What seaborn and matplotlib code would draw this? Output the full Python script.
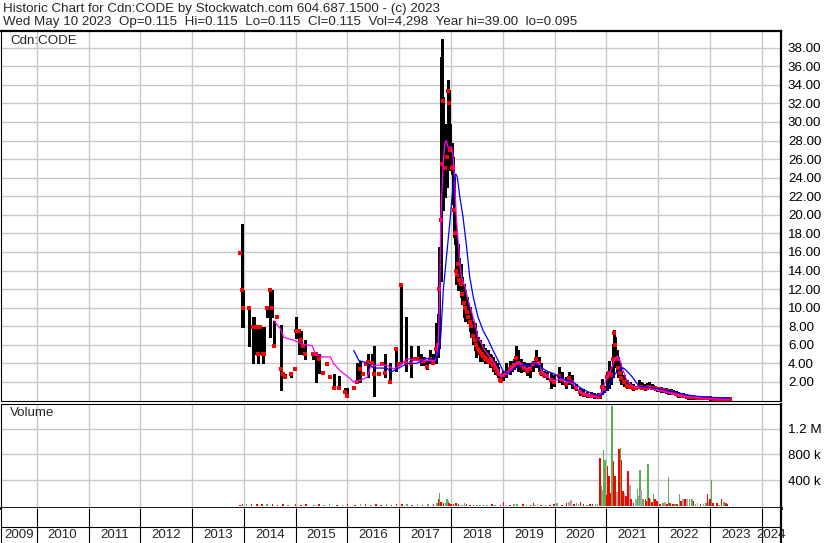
import pandas as pd
import numpy as np
import matplotlib
matplotlib.use("Agg")
import matplotlib.pyplot as plt
import seaborn as sns

# Header text
title_line1 = "Historic Chart for Cdn:CODE by Stockwatch.com 604.687.1500 - (c) 2023"
title_line2 = ("Wed May 10 2023  Op=0.115  Hi=0.115  Lo=0.115  Cl=0.115  "
               "Vol=4,298  Year hi=39.00  lo=0.095")
symbol = "Cdn:CODE"

# Price bars (decimal year, high, low, close)
bar_year = [2013.92, 2013.97, 2013.99, 2014.10, 2014.17, 2014.19, 2014.23, 2014.28, 2014.32, 2014.36,
            2014.38, 2014.45, 2014.51, 2014.54, 2014.58, 2014.64, 2014.71, 2014.76, 2014.80, 2014.91,
            2014.99, 2015.01, 2015.06, 2015.10, 2015.14, 2015.17, 2015.34, 2015.40, 2015.45, 2015.53,
            2015.61, 2015.67, 2015.73, 2015.83, 2015.95, 2015.99, 2016.13, 2016.19, 2016.24, 2016.30,
            2016.35, 2016.40, 2016.47, 2016.51, 2016.60, 2016.67, 2016.73, 2016.83, 2016.94, 2016.99,
            2017.03, 2017.13, 2017.23, 2017.31, 2017.37, 2017.42, 2017.47,
            2017.53, 2017.59, 2017.65, 2017.71, 2017.75, 2017.77, 2017.80, 2017.83, 2017.85, 2017.89,
            2017.92, 2017.94, 2017.96, 2017.98, 2018.01, 2018.04, 2018.06, 2018.07, 2018.10, 2018.12,
            2018.14, 2018.16, 2018.19, 2018.21, 2018.24, 2018.27, 2018.30, 2018.33, 2018.36, 2018.39,
            2018.43, 2018.46, 2018.49, 2018.52, 2018.55, 2018.59, 2018.62, 2018.65, 2018.68, 2018.72,
            2018.75, 2018.78, 2018.81, 2018.84, 2018.88, 2018.91, 2018.94, 2018.97, 2019.01, 2019.07,
            2019.13, 2019.18, 2019.22,
            2019.26, 2019.30, 2019.35, 2019.41, 2019.47, 2019.53, 2019.58, 2019.64, 2019.69, 2019.73,
            2019.80, 2019.85, 2019.92, 2019.99, 2020.09, 2020.14, 2020.21, 2020.28, 2020.33, 2020.41,
            2020.49, 2020.55, 2020.63, 2020.70, 2020.76, 2020.83, 2020.88, 2020.91, 2020.95, 2021.01,
            2021.04, 2021.08, 2021.12, 2021.15, 2021.17, 2021.20, 2021.23, 2021.26, 2021.29, 2021.34,
            2021.39, 2021.46, 2021.52, 2021.58,
            2021.63, 2021.68, 2021.74, 2021.83, 2021.87, 2021.94, 2022.02, 2022.10, 2022.19, 2022.29,
            2022.39, 2022.48, 2022.58, 2022.68, 2022.80, 2022.93, 2023.06, 2023.19, 2023.29, 2023.38,
            2021.66, 2021.71, 2021.78, 2021.90, 2021.98, 2022.06, 2022.14, 2022.24, 2022.34, 2022.44,
            2022.53, 2022.63, 2022.74, 2022.87, 2023.00, 2023.12, 2023.24, 2023.34]
bar_hi = [16.0, 19.0, 11.9, 10.0, 9.0, 9.0, 7.9, 7.9, 7.9, 7.9,
          7.9, 10.0, 11.9, 11.9, 8.6, 9.0, 8.1, 3.0, 2.9, 2.9,
          3.4, 9.0, 7.5, 7.5, 5.9, 6.5, 5.0, 5.0, 5.0, 3.0,
          3.9, 2.5, 2.9, 2.6, 1.4, 1.4, 1.4, 4.0, 4.3, 2.9,
          3.9, 5.0, 5.0, 5.9, 2.9, 3.9, 5.0, 4.0, 5.5, 3.9,
          12.4, 9.0, 5.9, 4.5, 5.9, 5.0, 4.7,
          4.3, 5.4, 5.0, 8.3, 9.3, 16.5, 37.0, 38.9, 32.7, 29.8,
          29.8, 34.5, 33.4, 29.8, 27.7, 26.2, 24.1, 19.8, 18.3, 16.2,
          16.9, 15.4, 14.7, 13.3, 12.6, 11.9, 11.1, 10.4, 10.1, 9.3,
          8.6, 8.3, 7.5, 6.8, 6.5, 6.1, 6.1, 5.7, 5.4, 5.4,
          5.0, 4.9, 4.7, 4.3, 4.0, 3.6, 2.9, 2.5, 3.2, 4.0,
          4.3, 4.3, 4.5,
          5.9, 5.4, 4.5, 4.1, 4.0, 4.0, 4.3, 5.4, 4.7, 4.0,
          3.2, 3.1, 3.0, 2.7, 3.6, 3.1, 2.5, 3.1, 2.7, 1.8,
          1.3, 1.2, 0.9, 0.9, 0.8, 0.8, 0.7, 2.3, 1.6, 3.1,
          4.3, 3.6, 6.1, 7.6, 6.8, 5.4, 4.7, 4.0, 3.2, 2.7,
          2.2, 2.0, 1.8, 1.6,
          2.2, 1.9, 1.8, 2.0, 1.8, 1.6, 1.4, 1.4, 1.26, 1.1,
          0.9, 0.8, 0.55, 0.54, 0.43, 0.43, 0.4, 0.36, 0.3, 0.2,
          2.0, 1.7, 1.9, 1.7, 1.5, 1.45, 1.3, 1.2, 1.0, 0.85,
          0.7, 0.55, 0.5, 0.43, 0.42, 0.38, 0.33, 0.25]
bar_lo = [15.8, 7.9, 7.9, 5.9, 4.0, 5.0, 5.0, 4.0, 5.0, 4.0,
          5.0, 9.0, 6.8, 9.0, 5.9, 8.9, 1.1, 2.5, 2.5, 2.5,
          3.3, 6.7, 5.0, 5.0, 5.0, 4.5, 4.5, 2.0, 3.0, 2.9,
          3.8, 2.4, 1.4, 1.4, 0.9, 0.5, 1.3, 2.0, 2.0, 2.8,
          3.8, 2.5, 4.0, 0.5, 2.8, 3.8, 2.5, 2.0, 3.2, 3.8,
          4.0, 3.2, 2.5, 4.4, 4.5, 3.8, 3.8,
          3.4, 4.0, 4.0, 4.0, 4.7, 5.7, 12.9, 22.6, 20.5, 21.9,
          23.0, 29.1, 27.7, 24.8, 24.4, 21.2, 17.6, 16.9, 12.6, 12.6,
          11.9, 12.6, 11.1, 10.4, 9.0, 8.6, 8.6, 8.3, 7.5, 6.8,
          6.1, 5.4, 4.7, 5.0, 4.3, 4.7, 4.3, 4.0, 4.0, 4.0,
          3.6, 4.0, 3.2, 2.9, 2.8, 2.5, 2.0, 2.0, 2.2, 2.5,
          2.9, 3.2, 3.4,
          3.6, 3.2, 3.1, 3.2, 2.7, 2.5, 3.2, 3.6, 3.2, 2.7,
          2.5, 2.3, 1.4, 1.6, 2.0, 1.8, 1.3, 1.8, 1.4, 1.1,
          0.6, 0.5, 0.4, 0.4, 0.3, 0.3, 0.3, 0.7, 0.9, 1.1,
          1.4, 1.8, 2.5, 4.3, 3.6, 3.2, 2.5, 2.2, 1.8, 1.6,
          1.3, 1.3, 1.1, 1.2,
          1.3, 1.2, 1.15, 1.3, 1.2, 1.1, 1.0, 0.9, 0.75, 0.7,
          0.4, 0.36, 0.2, 0.2, 0.15, 0.12, 0.1, 0.08, 0.08, 0.1,
          1.3, 1.2, 1.2, 1.2, 1.05, 0.95, 0.85, 0.75, 0.6, 0.4,
          0.3, 0.2, 0.18, 0.12, 0.1, 0.09, 0.08, 0.09]
bar_close = [15.9, 11.9, 10.0, 10.0, 7.9, 7.9, 7.9, 5.0, 7.9, 5.0,
             5.0, 10.0, 11.9, 10.0, 5.9, 9.0, 3.4, 2.9, 2.5, 2.9,
             3.4, 7.5, 7.5, 6.5, 5.9, 5.0, 5.0, 5.0, 4.5, 2.95,
             3.9, 2.5, 1.4, 1.4, 0.9, 0.5, 1.4, 2.0, 3.4, 2.9,
             3.9, 4.1, 4.0, 2.9, 2.9, 3.9, 3.0, 2.0, 5.5, 3.9,
             12.4, 4.0, 4.0, 4.5, 4.5, 4.3, 4.3,
             3.6, 4.5, 4.0, 5.5, 6.0, 12.0, 19.4, 25.5, 32.3, 25.0,
             26.2, 33.3, 32.0, 27.0, 25.0, 25.1, 20.5, 18.0, 14.0, 13.5,
             14.7, 13.0, 12.5, 11.5, 10.5, 10.0, 9.5, 9.0, 8.5, 8.0,
             7.0, 6.5, 6.0, 5.5, 5.2, 5.0, 4.8, 4.6, 4.5, 4.3,
             4.2, 4.4, 3.8, 3.5, 3.2, 2.9, 2.2, 2.1, 2.8, 3.0,
             3.4, 3.6, 3.8,
             4.6, 4.0, 3.8, 3.5, 3.2, 3.4, 3.9, 4.5, 4.0, 3.0,
             2.7, 2.6, 2.2, 2.0, 2.6, 2.2, 1.8, 2.4, 2.0, 1.4,
             0.9, 0.7, 0.6, 0.5, 0.5, 0.4, 0.5, 1.5, 1.2, 2.5,
             3.0, 2.8, 4.5, 7.3, 6.0, 4.5, 3.5, 3.0, 2.4, 2.0,
             1.6, 1.5, 1.4, 1.4,
             1.5, 1.4, 1.4, 1.5, 1.4, 1.3, 1.2, 1.1, 1.0, 0.85,
             0.6, 0.5, 0.4, 0.35, 0.3, 0.25, 0.2, 0.15, 0.12, 0.115,
             1.5, 1.3, 1.4, 1.3, 1.2, 1.15, 1.05, 0.95, 0.75, 0.55,
             0.45, 0.38, 0.32, 0.27, 0.22, 0.17, 0.13, 0.12]

# Short moving average (magenta)
ma_fast_year = [2014.58, 2014.71, 2014.77, 2014.96, 2015.12, 2015.32, 2015.38, 2015.51, 2015.67, 2015.73,
                2015.86, 2016.02, 2016.12, 2016.25, 2016.38, 2016.44, 2016.57, 2016.76, 2016.89, 2017.02,
                2017.15, 2017.34, 2017.49, 2017.69, 2017.72, 2017.75, 2017.78, 2017.80, 2017.85, 2017.88,
                2017.91, 2017.94, 2018.01, 2018.04, 2018.07, 2018.10, 2018.14, 2018.17, 2018.20, 2018.27,
                2018.33, 2018.39, 2018.46, 2018.52, 2018.59, 2018.65, 2018.75, 2018.84, 2018.91, 2018.97,
                2019.04, 2019.13, 2019.24, 2019.33, 2019.40, 2019.46, 2019.53, 2019.59, 2019.69, 2019.75,
                2019.85, 2019.94, 2020.04, 2020.14, 2020.23, 2020.33, 2020.43, 2020.55, 2020.68, 2020.81,
                2020.91, 2020.99, 2021.07, 2021.15, 2021.21, 2021.26, 2021.33, 2021.39, 2021.49, 2021.58,
                2021.65, 2021.78, 2021.90, 2022.03, 2022.16, 2022.29, 2022.42, 2022.55, 2022.74, 2022.93,
                2023.19, 2023.38]
ma_fast = [8.6, 7.7, 6.8, 6.5, 6.1, 5.9, 5.0, 4.7, 4.7, 4.0,
           3.2, 2.5, 2.0, 2.2, 2.5, 3.6, 3.8, 3.8, 3.4, 3.8,
           4.5, 4.3, 4.3, 4.3, 4.8, 6.1, 11.1, 19.4, 25.9, 27.7,
           28.0, 27.3, 27.3, 26.2, 23.7, 19.8, 16.9, 14.7, 13.3, 12.2,
           10.8, 9.7, 8.3, 6.8, 6.1, 5.4, 4.7, 4.0, 3.2, 2.5,
           2.9, 3.2, 4.0, 4.1, 3.8, 3.4, 3.6, 4.0, 4.1, 3.2,
           2.6, 2.2, 2.2, 2.3, 2.0, 2.0, 1.3, 0.7, 0.5, 0.4,
           0.9, 2.2, 3.1, 4.3, 4.8, 4.3, 3.1, 2.2, 1.6, 1.4,
           1.5, 1.4, 1.26, 1.1, 0.9, 0.7, 0.54, 0.43, 0.36, 0.25,
           0.18, 0.15]

# Long moving average (blue)
ma_slow_year = [2016.12, 2016.22, 2016.35, 2016.44, 2016.51, 2016.76, 2016.83, 2016.89, 2017.02, 2017.15,
                2017.34, 2017.49, 2017.69, 2017.75, 2017.80, 2017.85, 2017.91, 2017.98, 2018.04, 2018.09,
                2018.12, 2018.17, 2018.23, 2018.30, 2018.36, 2018.43, 2018.52, 2018.62, 2018.72, 2018.81,
                2018.91, 2019.00, 2019.10, 2019.23, 2019.37, 2019.46, 2019.59, 2019.69, 2019.78, 2019.88,
                2019.98, 2020.10, 2020.23, 2020.36, 2020.49, 2020.62, 2020.75, 2020.88, 2020.97, 2021.07,
                2021.17, 2021.26, 2021.33, 2021.39, 2021.49, 2021.58, 2021.65, 2021.78, 2021.90, 2022.03,
                2022.16, 2022.29, 2022.42, 2022.55, 2022.74, 2022.93, 2023.19, 2023.38]
ma_slow = [5.4, 4.3, 4.1, 3.8, 3.5, 3.5, 3.1, 3.2, 3.6, 4.0,
           4.0, 4.5, 4.5, 5.0, 6.8, 11.9, 15.4, 19.4, 23.3, 24.4,
           24.1, 21.9, 19.8, 16.5, 13.3, 11.1, 9.0, 7.5, 6.5, 5.4,
           4.3, 3.2, 2.9, 3.5, 3.8, 3.8, 4.0, 3.8, 3.4, 3.1,
           2.9, 2.5, 2.2, 2.0, 1.4, 1.0, 0.7, 0.5, 0.9, 1.8,
           2.9, 3.4, 3.5, 3.2, 2.6, 1.9, 1.5, 1.44, 1.36, 1.26,
           1.08, 0.97, 0.79, 0.61, 0.47, 0.36, 0.29, 0.25]

# Volume (thousands of shares); direction u=up, d=down, n=unchanged
vol_year = [2013.92, 2013.97, 2014.05, 2014.15, 2014.25, 2014.35, 2014.45, 2014.55, 2014.65, 2014.75,
            2014.85, 2015.00, 2015.10, 2015.20, 2015.35, 2015.45, 2015.55, 2015.65, 2015.80, 2015.90,
            2016.00, 2016.15, 2016.25, 2016.35, 2016.45, 2016.55, 2016.65, 2016.75, 2016.85, 2016.95,
            2017.05, 2017.15, 2017.25, 2017.35, 2017.45, 2017.55, 2017.66, 2017.73, 2017.76, 2017.78,
            2017.81, 2017.85, 2017.89, 2017.92, 2017.94, 2017.96, 2018.00, 2018.05, 2018.10, 2018.14,
            2018.21, 2018.26, 2018.30, 2018.37, 2018.43, 2018.50, 2018.56, 2018.63, 2018.69, 2018.79,
            2018.85, 2018.95, 2019.01, 2019.05, 2019.14, 2019.22, 2019.27, 2019.39, 2019.46, 2019.53,
            2019.59, 2019.62, 2019.67, 2019.74, 2019.82, 2019.91, 2019.99, 2020.05, 2020.14, 2020.23,
            2020.28, 2020.32, 2020.37, 2020.42, 2020.46, 2020.50, 2020.56, 2020.62, 2020.68, 2020.73,
            2020.79, 2020.83, 2020.87, 2020.90, 2020.92, 2020.94, 2020.97, 2021.00, 2021.02, 2021.05,
            2021.07, 2021.11, 2021.14, 2021.16, 2021.18, 2021.20, 2021.24, 2021.27, 2021.29, 2021.32,
            2021.35, 2021.38, 2021.42, 2021.45, 2021.47, 2021.52, 2021.57, 2021.60, 2021.63, 2021.65,
            2021.67, 2021.71, 2021.75, 2021.77, 2021.80, 2021.82, 2021.85, 2021.88, 2021.91, 2021.94,
            2021.98, 2022.03, 2022.09, 2022.13, 2022.17, 2022.20, 2022.23, 2022.28, 2022.32, 2022.36,
            2022.41, 2022.44, 2022.48, 2022.52, 2022.55, 2022.60, 2022.65, 2022.68, 2022.72, 2022.76,
            2022.82, 2022.87, 2022.92, 2022.95, 2022.97, 2023.00, 2023.03, 2023.06, 2023.13, 2023.17,
            2023.22, 2023.27, 2023.31, 2023.33]
vol_k = [15, 25, 20, 30, 20, 25, 20, 30, 15, 20,
         15, 20, 15, 20, 15, 20, 15, 20, 15, 15,
         20, 15, 20, 20, 15, 20, 15, 20, 15, 20,
         25, 20, 15, 20, 15, 20, 25, 40, 110, 195,
         60, 50, 45, 100, 75, 40, 30, 25, 40, 20,
         15, 40, 25, 15, 15, 10, 15, 15, 10, 20,
         15, 15, 60, 15, 15, 25, 20, 25, 15, 15,
         40, 15, 30, 15, 10, 15, 20, 40, 15, 40,
         60, 90, 20, 40, 30, 60, 20, 15, 25, 25,
         25, 30, 745, 310, 250, 870, 710, 170, 620, 470,
         200, 1560, 700, 460, 160, 220, 880, 900, 720, 230,
         200, 150, 540, 320, 100, 40, 100, 255, 150, 555,
         250, 100, 100, 80, 655, 120, 110, 60, 180, 100,
         80, 30, 40, 60, 30, 455, 50, 30, 30, 25,
         180, 75, 110, 100, 100, 100, 110, 75, 30, 50,
         25, 25, 50, 190, 60, 100, 395, 50, 50, 10,
         100, 60, 50, 25]
vol_dir = ['d', 'd', 'u', 'd', 'd', 'd', 'u', 'd', 'd', 'd',
           'u', 'd', 'd', 'd', 'u', 'd', 'u', 'u', 'd', 'u',
           'd', 'd', 'u', 'd', 'u', 'd', 'd', 'u', 'd', 'd',
           'd', 'u', 'd', 'u', 'd', 'u', 'd', 'u', 'd', 'u',
           'd', 'd', 'u', 'u', 'u', 'd', 'd', 'd', 'd', 'd',
           'u', 'u', 'd', 'd', 'd', 'u', 'u', 'd', 'u', 'd',
           'u', 'd', 'd', 'n', 'd', 'u', 'u', 'd', 'u', 'd',
           'd', 'n', 'n', 'd', 'u', 'd', 'd', 'u', 'd', 'd',
           'n', 'n', 'd', 'u', 'n', 'd', 'd', 'u', 'd', 'd',
           'u', 'u', 'd', 'u', 'n', 'u', 'u', 'd', 'd', 'd',
           'd', 'u', 'd', 'd', 'd', 'n', 'd', 'u', 'd', 'd',
           'n', 'd', 'd', 'n', 'd', 'd', 'n', 'u', 'n', 'u',
           'n', 'u', 'd', 'd', 'u', 'd', 'n', 'd', 'u', 'd',
           'd', 'd', 'u', 'n', 'd', 'u', 'd', 'd', 'u', 'd',
           'u', 'd', 'n', 'd', 'n', 'u', 'u', 'd', 'u', 'n',
           'd', 'u', 'u', 'd', 'n', 'd', 'u', 'd', 'd', 'u',
           'd', 'u', 'd', 'd']

year_labels = ['2009', '2010', '2011', '2012', '2013', '2014', '2015', '2016',
               '2017', '2018', '2019', '2020', '2021', '2022', '2023', '2024']
price_ticks = [2, 4, 6, 8, 10, 12, 14, 16, 18, 20, 22, 24, 26, 28, 30, 32, 34, 36, 38]
vol_ticks = [400, 800, 1200]
vol_tick_labels = ['400 k', '800 k', '1.2 M']

sns.set_style("white")
plt.rcParams['font.family'] = ['Liberation Sans', 'DejaVu Sans']
FS = 9.6

W, H = 830, 543
fig = plt.figure(figsize=(W / 100, H / 100), dpi=100)


def box(x0, y0, x1, y1):
    # pixel box -> figure fraction
    return [x0 / W, 1 - y1 / H, (x1 - x0) / W, (y1 - y0) / H]


ax = fig.add_axes(box(1, 31, 781, 401))
axv = fig.add_axes(box(1, 404, 781, 508))
axy = fig.add_axes(box(1, 508, 781, 543))

x_left, x_right = 2009.31, 2024.37
grid_col = '#c8c8c8'
year_edges = [int(y) for y in year_labels[1:]]

for a in (ax, axv, axy):
    a.set_xlim(x_left, x_right)
    a.set_facecolor('white')

for a in (ax, axv):
    a.set_xticks(year_edges)
    a.tick_params(axis='x', length=0, labelbottom=False)
    a.yaxis.tick_right()
    a.tick_params(axis='y', length=0, pad=5, labelsize=FS, colors='black')
    a.grid(True, color=grid_col, lw=1.0)
    a.set_axisbelow(True)

# price panel
ax.set_ylim(-0.05, 39.8)
ax.set_yticks(price_ticks)
ax.set_yticklabels([f"{t:.2f}" for t in price_ticks])
ax.vlines(bar_year, bar_lo, bar_hi, color='black', lw=1.0, zorder=2, antialiased=False)
sns.scatterplot(x=bar_year, y=bar_close, marker='s', s=5, color='red',
                linewidth=0, ax=ax, zorder=3, legend=False)
sns.lineplot(x=ma_fast_year, y=ma_fast, color='#ff00ff', lw=0.9, ax=ax,
             estimator=None, sort=False, zorder=4)
sns.lineplot(x=ma_slow_year, y=ma_slow, color='#0000ff', lw=0.9, ax=ax,
             estimator=None, sort=False, zorder=5)
ax.set_xlabel('')
ax.set_ylabel('')

# volume panel
dir_colors = {'u': '#50b450', 'd': '#ff0000', 'n': '#a8a8a8'}
vol = pd.DataFrame({'year': vol_year, 'vol': vol_k, 'dir': vol_dir})
axv.bar(vol['year'], vol['vol'], width=0.03, color=vol['dir'].map(dir_colors),
        linewidth=0, zorder=2)
axv.set_ylim(-35, 1585)
axv.set_yticks(vol_ticks)
axv.set_yticklabels(vol_tick_labels)

# year strip
axy.set_ylim(0, 1)
axy.vlines(year_edges, 0, 1, color='black', lw=0.8)
axy.axhline(0.46, color='black', lw=0.8)
axy.set_xticks([])
axy.set_yticks([])
for lab in year_labels:
    a0 = max(int(lab), x_left)
    a1 = min(int(lab) + 1, x_right)
    axy.text((a0 + a1) / 2, 0.22, lab, ha='center', va='center', fontsize=FS)

for a in (ax, axv, axy):
    for s in a.spines.values():
        s.set_color('black')
        s.set_linewidth(0.8)
    a.spines['right'].set_linewidth(1.6)
ax.spines['top'].set_linewidth(1.6)
axv.spines['bottom'].set_linewidth(2.0)
axy.spines['top'].set_visible(False)
axy.spines['bottom'].set_visible(False)

fig.text(3 / W, 1 - 9 / H, title_line1, fontsize=FS, va='center', ha='left')
fig.text(3 / W, 1 - 22 / H, title_line2, fontsize=FS, va='center', ha='left')
fig.text(10 / W, 1 - 41 / H, symbol, fontsize=FS, va='center', ha='left')
fig.text(10 / W, 1 - 413 / H, 'Volume', fontsize=FS, va='center', ha='left')

fig.savefig('out.png', dpi=100, facecolor='white')
